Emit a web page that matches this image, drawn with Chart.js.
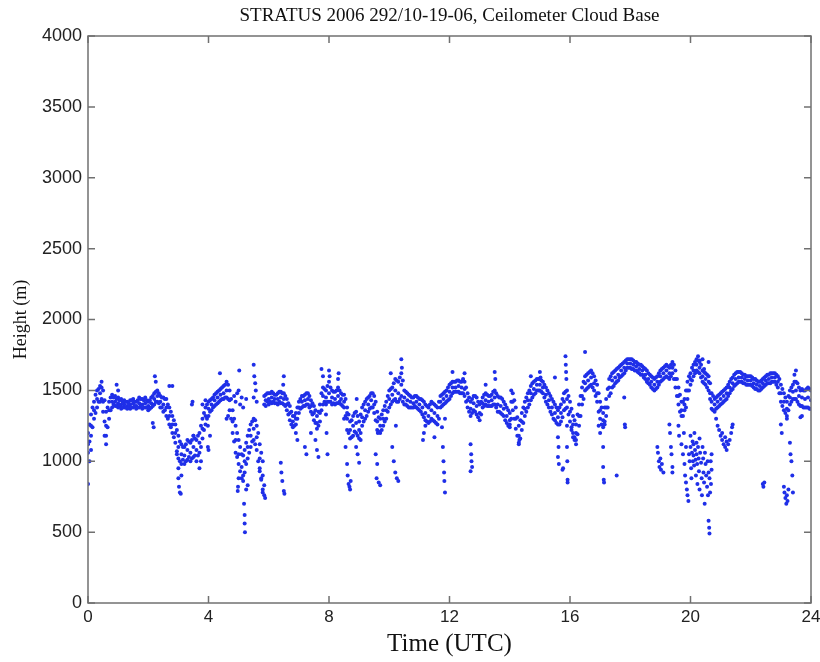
<!DOCTYPE html>
<html>
<head>
<meta charset="utf-8">
<title>STRATUS 2006 Ceilometer Cloud Base</title>
<script src="https://cdn.jsdelivr.net/npm/chart.js@4"></script>
<style>
  html, body { margin: 0; padding: 0; background: #ffffff; }
  #cloudCanvas { display: block; }
</style>
</head>
<body>
<canvas id="cloudCanvas" width="820" height="662"></canvas>
<script>
// Axis ticks
const timeTicks = [0, 4, 8, 12, 16, 20, 24];
const heightTicks = [0, 500, 1000, 1500, 2000, 2500, 3000, 3500, 4000];

// Main cloud base band: [time (h), upper, middle, lower] in m
const band0to4 = [
  [0.0, 1200, 1120, 1060], [0.1, 1330, 1250, 1180], [0.2, 1420, 1360, 1300], [0.3, 1500, 1440, 1380],
  [0.4, 1530, 1480, 1420], [0.5, 1500, 1420, 1350], [0.6, 1350, 1250, 1180], [0.7, 1420, 1360, 1300],
  [0.8, 1470, 1420, 1380], [0.9, 1460, 1420, 1390], [1.0, 1450, 1410, 1380], [1.1, 1440, 1400, 1370],
  [1.2, 1430, 1400, 1380], [1.3, 1420, 1390, 1370], [1.4, 1430, 1400, 1370], [1.5, 1440, 1410, 1380],
  [1.6, 1420, 1390, 1370], [1.7, 1450, 1410, 1380], [1.8, 1440, 1400, 1370], [1.9, 1450, 1410, 1380],
  [2.0, 1420, 1390, 1360], [2.1, 1450, 1410, 1380], [2.2, 1480, 1440, 1400], [2.3, 1500, 1460, 1420],
  [2.4, 1460, 1420, 1380], [2.5, 1450, 1400, 1350], [2.6, 1440, 1380, 1320], [2.7, 1380, 1320, 1260],
  [2.8, 1320, 1260, 1200], [2.9, 1260, 1200, 1130], [3.0, 1180, 1100, 1020], [3.1, 1120, 1050, 980],
  [3.2, 1100, 1040, 980], [3.3, 1150, 1080, 1010], [3.4, 1130, 1060, 1000], [3.5, 1180, 1100, 1030],
  [3.6, 1150, 1080, 1000], [3.7, 1200, 1130, 1060], [3.8, 1300, 1230, 1160], [3.9, 1380, 1320, 1260]
];
const band4to8 = [
  [4.0, 1420, 1370, 1320], [4.1, 1440, 1400, 1360], [4.2, 1470, 1430, 1390], [4.3, 1490, 1450, 1410],
  [4.4, 1510, 1470, 1430], [4.5, 1530, 1480, 1440], [4.6, 1560, 1500, 1450], [4.7, 1500, 1430, 1360],
  [4.8, 1360, 1280, 1200], [4.9, 1250, 1150, 1060], [5.0, 1150, 1050, 980], [5.1, 1050, 960, 880],
  [5.2, 1080, 1000, 920], [5.3, 1180, 1100, 1020], [5.4, 1260, 1180, 1100], [5.5, 1300, 1230, 1150],
  [5.6, 1250, 1170, 1080], [5.7, 1120, 1020, 930], [5.8, 1000, 900, 800], [5.9, 1470, 1430, 1390],
  [6.0, 1480, 1440, 1400], [6.1, 1490, 1450, 1410], [6.2, 1470, 1440, 1410], [6.3, 1480, 1440, 1400],
  [6.4, 1490, 1450, 1410], [6.5, 1480, 1440, 1400], [6.6, 1440, 1400, 1360], [6.7, 1390, 1340, 1290],
  [6.8, 1320, 1280, 1240], [6.9, 1340, 1300, 1260], [7.0, 1420, 1380, 1340], [7.1, 1460, 1420, 1380],
  [7.2, 1470, 1430, 1390], [7.3, 1480, 1440, 1400], [7.4, 1430, 1390, 1350], [7.5, 1390, 1340, 1290],
  [7.6, 1320, 1270, 1230], [7.7, 1400, 1340, 1280], [7.8, 1520, 1460, 1400], [7.9, 1500, 1450, 1400]
];
const band8to12 = [
  [8.0, 1560, 1480, 1420], [8.1, 1500, 1450, 1400], [8.2, 1490, 1440, 1400], [8.3, 1520, 1460, 1410],
  [8.4, 1480, 1440, 1400], [8.5, 1470, 1420, 1380], [8.6, 1380, 1300, 1220], [8.7, 1280, 1220, 1160],
  [8.8, 1320, 1250, 1180], [8.9, 1350, 1270, 1200], [9.0, 1280, 1220, 1160], [9.1, 1380, 1310, 1250],
  [9.2, 1420, 1360, 1300], [9.3, 1450, 1400, 1350], [9.4, 1480, 1430, 1380], [9.5, 1460, 1400, 1340],
  [9.6, 1350, 1280, 1220], [9.7, 1300, 1250, 1200], [9.8, 1360, 1300, 1250], [9.9, 1420, 1360, 1300],
  [10.0, 1500, 1440, 1380], [10.1, 1520, 1470, 1420], [10.2, 1580, 1500, 1440], [10.3, 1560, 1480, 1420],
  [10.4, 1620, 1540, 1460], [10.5, 1500, 1450, 1400], [10.6, 1480, 1430, 1390], [10.7, 1460, 1420, 1380],
  [10.8, 1450, 1410, 1380], [10.9, 1460, 1420, 1380], [11.0, 1440, 1400, 1360], [11.1, 1430, 1380, 1330],
  [11.2, 1400, 1340, 1290], [11.3, 1380, 1320, 1270], [11.4, 1420, 1360, 1300], [11.5, 1400, 1340, 1280],
  [11.6, 1380, 1320, 1260], [11.7, 1460, 1420, 1380], [11.8, 1480, 1440, 1400], [11.9, 1500, 1460, 1420]
];
const band12to16 = [
  [12.0, 1540, 1490, 1440], [12.1, 1560, 1520, 1480], [12.2, 1560, 1520, 1490], [12.3, 1570, 1530, 1490],
  [12.4, 1560, 1520, 1480], [12.5, 1560, 1510, 1460], [12.6, 1480, 1430, 1380], [12.7, 1420, 1370, 1320],
  [12.8, 1460, 1410, 1360], [12.9, 1450, 1390, 1330], [13.0, 1400, 1340, 1290], [13.1, 1450, 1410, 1380],
  [13.2, 1480, 1430, 1400], [13.3, 1460, 1420, 1390], [13.4, 1470, 1430, 1390], [13.5, 1500, 1450, 1400],
  [13.6, 1460, 1400, 1350], [13.7, 1450, 1390, 1340], [13.8, 1420, 1370, 1320], [13.9, 1380, 1320, 1270],
  [14.0, 1340, 1290, 1240], [14.1, 1480, 1420, 1360], [14.2, 1380, 1300, 1230], [14.3, 1250, 1180, 1120],
  [14.4, 1340, 1280, 1220], [14.5, 1420, 1370, 1320], [14.6, 1480, 1430, 1380], [14.7, 1530, 1480, 1430],
  [14.8, 1560, 1510, 1470], [14.9, 1580, 1540, 1500], [15.0, 1580, 1540, 1500], [15.1, 1560, 1520, 1480],
  [15.2, 1520, 1470, 1420], [15.3, 1480, 1430, 1380], [15.4, 1440, 1380, 1330], [15.5, 1400, 1340, 1290],
  [15.6, 1360, 1310, 1260], [15.7, 1400, 1340, 1280], [15.8, 1480, 1420, 1360], [15.9, 1500, 1440, 1380]
];
const band16to20 = [
  [16.0, 1420, 1350, 1280], [16.1, 1320, 1260, 1200], [16.2, 1260, 1200, 1150], [16.3, 1400, 1320, 1250],
  [16.4, 1520, 1460, 1400], [16.5, 1600, 1550, 1500], [16.6, 1620, 1570, 1520], [16.7, 1640, 1590, 1540],
  [16.8, 1600, 1550, 1500], [16.9, 1540, 1480, 1420], [17.0, 1420, 1360, 1300], [17.1, 1340, 1290, 1240],
  [17.2, 1440, 1380, 1320], [17.3, 1580, 1520, 1460], [17.4, 1620, 1570, 1520], [17.5, 1640, 1590, 1550],
  [17.6, 1660, 1610, 1570], [17.7, 1680, 1640, 1600], [17.8, 1700, 1660, 1620], [17.9, 1720, 1690, 1660],
  [18.0, 1720, 1690, 1660], [18.1, 1710, 1680, 1650], [18.2, 1700, 1670, 1640], [18.3, 1680, 1650, 1620],
  [18.4, 1670, 1640, 1610], [18.5, 1650, 1610, 1580], [18.6, 1620, 1580, 1550], [18.7, 1600, 1560, 1520],
  [18.8, 1580, 1540, 1500], [18.9, 1600, 1560, 1520], [19.0, 1640, 1600, 1560], [19.1, 1660, 1620, 1580],
  [19.2, 1680, 1640, 1600], [19.3, 1660, 1620, 1580], [19.4, 1700, 1660, 1620], [19.5, 1640, 1580, 1520],
  [19.6, 1520, 1460, 1400], [19.7, 1420, 1360, 1320], [19.8, 1440, 1400, 1360], [19.9, 1560, 1500, 1440]
];
const band20to24 = [
  [20.0, 1620, 1580, 1540], [20.1, 1680, 1640, 1600], [20.2, 1720, 1680, 1640], [20.3, 1700, 1660, 1620],
  [20.4, 1640, 1600, 1560], [20.5, 1620, 1580, 1540], [20.6, 1600, 1560, 1500], [20.7, 1480, 1420, 1370],
  [20.8, 1440, 1400, 1350], [20.9, 1460, 1420, 1380], [21.0, 1480, 1440, 1400], [21.1, 1500, 1460, 1420],
  [21.2, 1520, 1480, 1440], [21.3, 1560, 1520, 1480], [21.4, 1590, 1550, 1510], [21.5, 1620, 1580, 1540],
  [21.6, 1630, 1590, 1560], [21.7, 1620, 1590, 1560], [21.8, 1610, 1580, 1550], [21.9, 1600, 1570, 1540],
  [22.0, 1600, 1570, 1540], [22.1, 1580, 1550, 1520], [22.2, 1570, 1540, 1510], [22.3, 1560, 1530, 1500],
  [22.4, 1580, 1550, 1520], [22.5, 1600, 1570, 1540], [22.6, 1610, 1580, 1550], [22.7, 1620, 1590, 1560],
  [22.8, 1620, 1590, 1560], [22.9, 1600, 1560, 1520], [23.0, 1540, 1480, 1420], [23.1, 1480, 1420, 1360],
  [23.2, 1420, 1370, 1320], [23.3, 1500, 1450, 1400], [23.4, 1540, 1490, 1440], [23.5, 1560, 1500, 1440],
  [23.6, 1520, 1460, 1400], [23.7, 1510, 1450, 1390], [23.8, 1500, 1440, 1380], [23.9, 1520, 1450, 1380],
  [24.0, 1500, 1430, 1370]
];

// Returns between the band columns: [time (h), upper, lower] in m
const mid0to4 = [
  [0.05, 1260, 1140], [0.15, 1380, 1240], [0.25, 1470, 1340], [0.35, 1510, 1420], [0.45, 1520, 1440],
  [0.55, 1430, 1280], [0.65, 1380, 1240], [0.75, 1450, 1360], [0.85, 1450, 1400], [0.95, 1440, 1390],
  [1.05, 1430, 1390], [1.15, 1420, 1380], [1.25, 1420, 1380], [1.35, 1410, 1380], [1.45, 1430, 1380],
  [1.55, 1420, 1390], [1.65, 1430, 1380], [1.75, 1440, 1390], [1.85, 1430, 1380], [1.95, 1430, 1380],
  [2.05, 1430, 1370], [2.15, 1460, 1390], [2.25, 1490, 1420], [2.35, 1480, 1410], [2.45, 1450, 1380],
  [2.55, 1440, 1360], [2.65, 1400, 1300], [2.75, 1350, 1240], [2.85, 1290, 1170], [2.95, 1220, 1070],
  [3.05, 1140, 1000], [3.15, 1100, 1010], [3.25, 1120, 1000], [3.35, 1140, 1030], [3.45, 1150, 1020],
  [3.55, 1160, 1040], [3.65, 1180, 1040], [3.75, 1250, 1100], [3.85, 1340, 1220], [3.95, 1400, 1300]
];
const mid4to8 = [
  [4.05, 1430, 1350], [4.15, 1450, 1380], [4.25, 1480, 1400], [4.35, 1500, 1420], [4.45, 1520, 1440],
  [4.55, 1540, 1450], [4.65, 1540, 1440], [4.75, 1440, 1300], [4.85, 1300, 1140], [4.95, 1200, 1030],
  [5.05, 1100, 930], [5.15, 1040, 900], [5.25, 1130, 980], [5.35, 1220, 1060], [5.45, 1280, 1140],
  [5.55, 1290, 1120], [5.65, 1200, 1000], [5.75, 1060, 880], [5.85, 1460, 1400], [5.95, 1480, 1420],
  [6.05, 1480, 1420], [6.15, 1480, 1420], [6.25, 1470, 1410], [6.35, 1490, 1420], [6.45, 1480, 1410],
  [6.55, 1460, 1390], [6.65, 1410, 1330], [6.75, 1350, 1260], [6.85, 1320, 1250], [6.95, 1380, 1300],
  [7.05, 1440, 1370], [7.15, 1460, 1390], [7.25, 1480, 1400], [7.35, 1460, 1380], [7.45, 1410, 1330],
  [7.55, 1360, 1270], [7.65, 1350, 1250], [7.75, 1480, 1360], [7.85, 1510, 1420], [7.95, 1530, 1420]
];
const mid8to12 = [
  [8.05, 1520, 1420], [8.15, 1490, 1410], [8.25, 1500, 1410], [8.35, 1500, 1420], [8.45, 1470, 1390],
  [8.55, 1440, 1320], [8.65, 1330, 1200], [8.75, 1290, 1170], [8.85, 1340, 1210], [8.95, 1320, 1180],
  [9.05, 1330, 1200], [9.15, 1400, 1280], [9.25, 1440, 1320], [9.35, 1460, 1370], [9.45, 1480, 1380],
  [9.55, 1420, 1290], [9.65, 1310, 1210], [9.75, 1330, 1220], [9.85, 1390, 1280], [9.95, 1460, 1350],
  [10.05, 1510, 1400], [10.15, 1550, 1430], [10.25, 1570, 1420], [10.35, 1590, 1440], [10.45, 1570, 1420],
  [10.55, 1490, 1400], [10.65, 1470, 1380], [10.75, 1450, 1380], [10.85, 1460, 1390], [10.95, 1450, 1370],
  [11.05, 1440, 1350], [11.15, 1420, 1310], [11.25, 1390, 1280], [11.35, 1400, 1280], [11.45, 1410, 1290],
  [11.55, 1390, 1270], [11.65, 1420, 1300], [11.75, 1470, 1390], [11.85, 1490, 1410], [11.95, 1520, 1430]
];
const mid12to16 = [
  [12.05, 1550, 1460], [12.15, 1560, 1490], [12.25, 1570, 1490], [12.35, 1560, 1480], [12.45, 1570, 1480],
  [12.55, 1520, 1420], [12.65, 1450, 1350], [12.75, 1440, 1340], [12.85, 1460, 1350], [12.95, 1420, 1310],
  [13.05, 1420, 1330], [13.15, 1470, 1390], [13.25, 1470, 1390], [13.35, 1460, 1390], [13.45, 1490, 1400],
  [13.55, 1480, 1380], [13.65, 1450, 1350], [13.75, 1440, 1330], [13.85, 1400, 1290], [13.95, 1360, 1250],
  [14.05, 1420, 1300], [14.15, 1430, 1300], [14.25, 1310, 1180], [14.35, 1290, 1160], [14.45, 1380, 1270],
  [14.55, 1450, 1350], [14.65, 1500, 1400], [14.75, 1550, 1450], [14.85, 1570, 1480], [14.95, 1580, 1500],
  [15.05, 1570, 1490], [15.15, 1540, 1450], [15.25, 1500, 1400], [15.35, 1460, 1350], [15.45, 1420, 1300],
  [15.55, 1380, 1270], [15.65, 1380, 1260], [15.75, 1440, 1310], [15.85, 1490, 1370], [15.95, 1460, 1330]
];
const mid16to20 = [
  [16.05, 1370, 1240], [16.15, 1290, 1170], [16.25, 1330, 1190], [16.35, 1460, 1320], [16.45, 1560, 1440],
  [16.55, 1610, 1510], [16.65, 1630, 1530], [16.75, 1620, 1520], [16.85, 1570, 1460], [16.95, 1480, 1350],
  [17.05, 1380, 1260], [17.15, 1380, 1260], [17.25, 1510, 1380], [17.35, 1600, 1480], [17.45, 1630, 1530],
  [17.55, 1650, 1560], [17.65, 1670, 1590], [17.75, 1690, 1610], [17.85, 1710, 1640], [17.95, 1720, 1660],
  [18.05, 1720, 1650], [18.15, 1700, 1640], [18.25, 1690, 1630], [18.35, 1680, 1610], [18.45, 1660, 1590],
  [18.55, 1640, 1560], [18.65, 1610, 1540], [18.75, 1590, 1510], [18.85, 1590, 1510], [18.95, 1620, 1540],
  [19.05, 1650, 1570], [19.15, 1670, 1590], [19.25, 1670, 1590], [19.35, 1680, 1600], [19.45, 1680, 1580],
  [19.55, 1580, 1460], [19.65, 1470, 1350], [19.75, 1420, 1320], [19.85, 1500, 1380], [19.95, 1600, 1500]
];
const mid20to24 = [
  [20.05, 1660, 1570], [20.15, 1700, 1620], [20.25, 1710, 1630], [20.35, 1680, 1590], [20.45, 1630, 1550],
  [20.55, 1610, 1520], [20.65, 1550, 1440], [20.75, 1460, 1360], [20.85, 1450, 1370], [20.95, 1470, 1390],
  [21.05, 1490, 1410], [21.15, 1510, 1430], [21.25, 1540, 1460], [21.35, 1580, 1500], [21.45, 1610, 1530],
  [21.55, 1630, 1550], [21.65, 1630, 1560], [21.75, 1610, 1550], [21.85, 1600, 1540], [21.95, 1600, 1540],
  [22.05, 1590, 1530], [22.15, 1580, 1510], [22.25, 1560, 1500], [22.35, 1570, 1510], [22.45, 1590, 1530],
  [22.55, 1610, 1550], [22.65, 1620, 1550], [22.75, 1620, 1560], [22.85, 1610, 1540], [22.95, 1580, 1480],
  [23.05, 1510, 1390], [23.15, 1450, 1340], [23.25, 1460, 1360], [23.35, 1520, 1420], [23.45, 1560, 1440],
  [23.55, 1550, 1420], [23.65, 1500, 1390], [23.75, 1500, 1380], [23.85, 1510, 1380], [23.95, 1510, 1370]
];

// Scattered returns away from the band: [time (h), height (m)]
const spots0to4 = [
  [0.0, 840], [0.05, 1000], [0.1, 1080], [0.45, 1560], [0.55, 1180], [0.6, 1120], [0.95, 1540], [1.0, 1500],
  [2.15, 1270], [2.18, 1240], [2.22, 1600], [2.25, 1560], [2.7, 1530], [2.8, 1530], [2.95, 1050], [3.0, 950],
  [3.0, 880], [3.02, 820], [3.05, 780], [3.08, 770], [3.1, 900], [3.45, 1400], [3.47, 1420], [3.5, 1180],
  [3.8, 1400], [3.7, 950], [3.75, 1000], [3.98, 1250], [3.98, 1100], [3.9, 1430]
];
const spots4to8 = [
  [4.0, 1080], [4.05, 1180], [4.38, 1620], [4.6, 1300], [4.65, 1320], [4.85, 1460], [4.9, 1420], [4.95, 1480],
  [5.0, 1500], [5.02, 1640], [5.05, 1400], [5.1, 1450], [5.15, 1380], [5.25, 1440], [5.0, 880], [4.98, 820],
  [4.97, 790], [5.18, 700], [5.2, 620], [5.2, 560], [5.21, 500], [5.15, 860], [5.25, 800], [5.3, 830],
  [5.5, 1680], [5.52, 1600], [5.55, 1550], [5.57, 1500], [5.5, 1450], [5.6, 1420], [5.8, 780], [5.85, 760],
  [5.85, 830], [5.88, 740], [5.75, 870], [5.7, 950], [6.4, 990], [6.42, 920], [6.45, 860], [6.5, 790],
  [6.52, 770], [6.5, 1600], [6.48, 1540], [6.9, 1200], [6.95, 1150], [7.2, 1100], [7.25, 1050], [7.4, 1200],
  [7.55, 1150], [7.6, 1080], [7.65, 1030], [7.75, 1650], [7.8, 1600], [7.9, 1330], [7.92, 1200], [7.95, 1050]
];
const spots8to12 = [
  [8.0, 1640], [8.02, 1600], [8.3, 1580], [8.32, 1620], [8.5, 1300], [8.55, 1100], [8.6, 980], [8.62, 900],
  [8.65, 840], [8.68, 820], [8.7, 800], [8.72, 860], [8.6, 1340], [8.9, 1100], [8.95, 1050], [9.0, 990],
  [8.92, 1440], [9.05, 1150], [9.55, 1050], [9.6, 980], [9.58, 880], [9.65, 850], [9.7, 830], [9.62, 1200],
  [10.05, 1620], [10.1, 1100], [10.15, 1000], [10.2, 920], [10.25, 880], [10.3, 860], [10.22, 1250], [10.4, 1720],
  [10.42, 1660], [11.15, 1200], [11.12, 1150], [11.2, 1250], [11.5, 1170], [11.75, 1240], [11.78, 1100], [11.8, 1000],
  [11.82, 920], [11.83, 860], [11.85, 780], [11.85, 1300]
];
const spots12to16 = [
  [12.1, 1630], [12.5, 1620], [12.45, 1580], [12.7, 1120], [12.72, 1050], [12.73, 1000], [12.75, 960], [12.7, 930],
  [13.2, 1540], [13.5, 1630], [13.52, 1580], [14.0, 1260], [14.05, 1500], [14.3, 1130], [14.32, 1150], [14.7, 1600],
  [15.0, 1630], [15.02, 1590], [15.5, 1590], [15.6, 1170], [15.62, 1100], [15.6, 1030], [15.63, 980], [15.75, 940],
  [15.77, 950], [15.85, 1740], [15.86, 1680], [15.87, 1630], [15.88, 1580], [15.9, 1250], [15.9, 1100], [15.91, 1000],
  [15.92, 870], [15.92, 850]
];
const spots16to20 = [
  [16.05, 1220], [16.1, 1170], [16.15, 1150], [16.2, 1120], [16.5, 1770], [16.95, 1250], [17.0, 1200], [17.1, 1100],
  [17.1, 960], [17.12, 870], [17.13, 850], [17.15, 1280], [17.55, 900], [17.8, 1450], [17.82, 1260], [17.83, 1240],
  [18.9, 1100], [18.92, 1060], [18.95, 1000], [18.97, 960], [19.0, 1020], [19.02, 940], [19.05, 980], [19.1, 920],
  [19.3, 1260], [19.32, 1200], [19.35, 1100], [19.37, 1050], [19.4, 960], [19.4, 920], [19.6, 1250], [19.62, 1180],
  [19.7, 1120], [19.75, 1050], [19.8, 980], [19.82, 900], [19.85, 850], [19.88, 800], [19.9, 760], [19.93, 720],
  [19.78, 1200], [19.85, 1100]
];
const spots20to24 = [
  [19.95, 1050], [19.97, 1000], [20.0, 1100], [20.0, 1180], [20.02, 950], [20.03, 880], [20.05, 1060], [20.07, 1140],
  [20.08, 1000], [20.1, 1120], [20.1, 1040], [20.12, 970], [20.13, 1200], [20.15, 1080], [20.17, 1010], [20.18, 900],
  [20.2, 1130], [20.2, 1050], [20.22, 980], [20.23, 840], [20.25, 1100], [20.27, 1020], [20.28, 930], [20.3, 1160],
  [20.3, 800], [20.32, 1060], [20.35, 990], [20.37, 880], [20.38, 760], [20.4, 1100], [20.42, 1020], [20.43, 920],
  [20.45, 850], [20.47, 700], [20.48, 1060], [20.5, 980], [20.52, 900], [20.55, 820], [20.57, 1000], [20.58, 760],
  [20.6, 920], [20.6, 580], [20.62, 530], [20.63, 490], [20.63, 880], [20.65, 780], [20.67, 1000], [20.68, 840],
  [20.7, 1050], [20.7, 940], [20.25, 1740], [20.3, 1710], [20.4, 1720], [20.45, 1650], [20.6, 1700], [20.65, 1480],
  [20.85, 1300], [20.9, 1250], [20.95, 1220], [21.0, 1180], [21.05, 1150], [21.1, 1120], [21.15, 1100], [21.2, 1080],
  [21.2, 1140], [21.25, 1120], [21.3, 1150], [21.35, 1200], [21.38, 1240], [21.4, 1260], [21.05, 1200], [21.15, 1170],
  [22.4, 840], [22.42, 820], [22.45, 850], [23.1, 820], [23.12, 780], [23.15, 740], [23.18, 700], [23.2, 760],
  [23.22, 720], [23.25, 800], [23.2, 1300], [23.3, 1130], [23.32, 1050], [23.35, 1000], [23.38, 900], [23.4, 780],
  [23.5, 1640], [23.45, 1610], [23.65, 1310], [23.7, 1320], [23.0, 1260], [23.03, 1200]
];

const bands = [band0to4, band4to8, band8to12, band12to16, band16to20, band20to24];
const mids = [mid0to4, mid4to8, mid8to12, mid12to16, mid16to20, mid20to24];
const spots = [spots0to4, spots4to8, spots8to12, spots12to16, spots16to20, spots20to24];

// Flatten every table into {x, y} scatter points (each row: time then heights)
function buildPoints() {
  const pts = [];
  [bands, mids, spots].forEach(group => {
    group.forEach(rows => {
      rows.forEach(r => {
        for (let i = 1; i < r.length; i++) pts.push({ x: r[0], y: r[i] });
      });
    });
  });
  return pts;
}

// MATLAB-style box with inward ticks on all four sides
const boxTicks = {
  id: 'boxTicks',
  afterDraw(chart) {
    const ctx = chart.ctx;
    const a = chart.chartArea;
    const xs = chart.scales.x, ys = chart.scales.y;
    const len = 7;
    ctx.save();
    ctx.strokeStyle = '#707070';
    ctx.lineWidth = 1.5;
    ctx.strokeRect(a.left, a.top, a.right - a.left, a.bottom - a.top);
    ctx.beginPath();
    timeTicks.forEach(v => {
      const px = xs.getPixelForValue(v);
      ctx.moveTo(px, a.bottom); ctx.lineTo(px, a.bottom - len);
      ctx.moveTo(px, a.top); ctx.lineTo(px, a.top + len);
    });
    heightTicks.forEach(v => {
      const py = ys.getPixelForValue(v);
      ctx.moveTo(a.left, py); ctx.lineTo(a.left + len, py);
      ctx.moveTo(a.right, py); ctx.lineTo(a.right - len, py);
    });
    ctx.stroke();
    ctx.restore();
  }
};

document.addEventListener('DOMContentLoaded', () => {
  const ctx = document.getElementById('cloudCanvas').getContext('2d');
  new Chart(ctx, {
    type: 'scatter',
    data: {
      datasets: [{
        label: 'Cloud base',
        data: buildPoints(),
        backgroundColor: '#1f2fe8',
        borderWidth: 0,
        pointRadius: 2,
        pointHoverRadius: 2
      }]
    },
    options: {
      responsive: false,
      animation: false,
      events: [],
      layout: { padding: { left: 0, right: 0, top: 0, bottom: 0 } },
      plugins: {
        legend: { display: false },
        tooltip: { enabled: false },
        title: {
          display: true,
          fullSize: false,
          text: 'STRATUS 2006 292/10-19-06, Ceilometer Cloud Base',
          color: '#111',
          font: { family: 'Liberation Serif', size: 19, weight: 'normal', lineHeight: 1.2 },
          padding: { top: 5, bottom: 8.2 }
        }
      },
      scales: {
        x: {
          type: 'linear',
          min: 0, max: 24,
          afterBuildTicks: s => { s.ticks = timeTicks.map(v => ({ value: v })); },
          // fixed axis band so the plot box lands where the original's does
          afterFit: s => { s.height = 59; s.paddingRight = 9; },
          grid: { display: false, drawTicks: false },
          border: { display: false },
          ticks: {
            color: '#222', padding: 4, maxRotation: 0,
            font: { family: 'Liberation Sans', size: 17 },
            callback: v => String(v)
          },
          title: {
            display: true,
            text: 'Time (UTC)',
            color: '#111',
            font: { family: 'Liberation Serif', size: 25 },
            padding: { top: 0, bottom: 3 }
          }
        },
        y: {
          type: 'linear',
          min: 0, max: 4000,
          afterBuildTicks: s => { s.ticks = heightTicks.map(v => ({ value: v })); },
          afterFit: s => { s.width = 88; },
          grid: { display: false, drawTicks: false },
          border: { display: false },
          ticks: {
            color: '#222', padding: 6,
            font: { family: 'Liberation Sans', size: 18 },
            callback: v => String(v)
          },
          title: {
            display: true,
            text: 'Height (m)',
            color: '#111',
            font: { family: 'Liberation Serif', size: 18 },
            padding: { top: 10, bottom: 0 }
          }
        }
      }
    },
    plugins: [boxTicks]
  });
});
</script>
</body>
</html>
